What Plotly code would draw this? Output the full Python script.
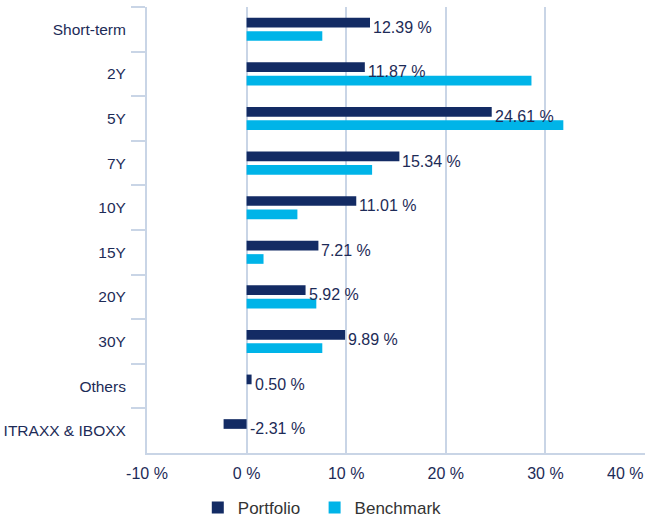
import plotly.graph_objects as go

categories = ["Short-term", "2Y", "5Y", "7Y", "10Y", "15Y", "20Y", "30Y", "Others", "ITRAXX & IBOXX"]
portfolio = [12.39, 11.87, 24.61, 15.34, 11.01, 7.21, 5.92, 9.89, 0.50, -2.31]
benchmark = [7.6, 28.6, 31.8, 12.6, 5.1, 1.7, 7.0, 7.6, 0.0, 0.0]
x_ticks = [-10, 0, 10, 20, 30, 40]
x_tick_labels = ["-10 %", "0 %", "10 %", "20 %", "30 %", "40 %"]

NAVY = "#132b64"
CYAN = "#00b4e8"
TEXT = "#1d2b57"
GRID = "#c9d5e6"
FONT = "Liberation Sans, Arial, sans-serif"

fig = go.Figure()
fig.add_trace(go.Bar(name="Portfolio\u00a0\u00a0", y=categories, x=portfolio, orientation="h",
                     marker=dict(color=NAVY, line=dict(width=0))))
fig.add_trace(go.Bar(name="Benchmark", y=categories, x=benchmark, orientation="h",
                     marker=dict(color=CYAN, line=dict(width=0))))

for c, v in zip(categories, portfolio):
    fig.add_annotation(x=max(v, 0), y=c, text=f"{v:.2f} %", showarrow=False,
                       xanchor="left", yanchor="middle", xshift=1, yshift=2,
                       font=dict(size=16, color=TEXT, family=FONT))

# last x tick label drawn inside the figure
fig.add_annotation(x=x_ticks[-1], y=0, xref="x", yref="paper", text=x_tick_labels[-1],
                   showarrow=False, xanchor="right", yanchor="middle", yshift=-20,
                   font=dict(size=16, color=TEXT, family=FONT))

fig.update_layout(
    width=647, height=520,
    margin=dict(l=147, r=2, t=7, b=67, autoexpand=False),
    paper_bgcolor="white", plot_bgcolor="white",
    barmode="group", bargap=0.40, bargroupgap=0.276,
    font=dict(family=FONT, size=16, color=TEXT),
    showlegend=True,
    legend=dict(orientation="h", x=0.102, xanchor="left", y=-0.123, yanchor="middle",
                font=dict(size=17, color="#333333")),
    xaxis=dict(range=[-10, 40], tickvals=x_ticks[:-1], ticktext=x_tick_labels[:-1],
               showgrid=True, gridcolor=GRID, gridwidth=1.5, zeroline=False,
               showline=True, linecolor=GRID, linewidth=2, ticks="", automargin=False,
               ticklabelstandoff=5,
               tickfont=dict(size=16, color=TEXT), fixedrange=True),
    yaxis=dict(autorange="reversed", showgrid=False, showline=True, linecolor=GRID, linewidth=2,
               ticks="outside", tickson="boundaries", ticklen=14, tickcolor=GRID, tickwidth=2,
               automargin=False, ticklabelstandoff=16,
               tickfont=dict(size=15.5, color=TEXT), fixedrange=True),
)

fig.write_html("out.html", config={"displayModeBar": False},
               post_script="document.body.style.margin='0';")
